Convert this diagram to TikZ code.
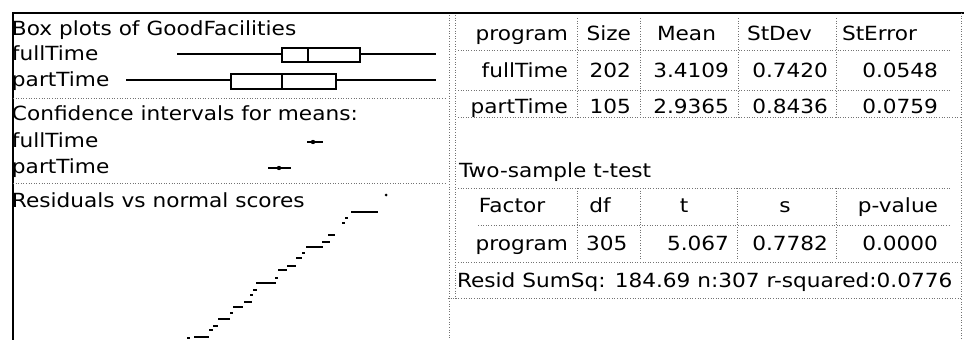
\documentclass[tikz,border=0pt]{standalone}
\usepackage{fontspec}
\newfontfamily\uiface[FakeStretch=1.11]{DejaVu Sans}
\newcommand\uifont{\uiface\fontsize{19.5}{22}\selectfont}
\begin{document}
\begin{tikzpicture}[x=1pt,y=-1pt]
\tikzset{
  lbl/.style={inner sep=0pt, outer sep=0pt, font=\uifont, text=black},
  sepline/.style={black!55, line width=0.7pt, dash pattern=on 1pt off 1.6pt},
  frameline/.style={black, line width=1.8pt},
  plotline/.style={black, line width=1.4pt},
  qq/.style={black, line width=2.2pt},
}
\useasboundingbox (0,0) rectangle (964,340);
\fill[white] (0,0) rectangle (964,340);

% window frame
\draw[frameline] (13,340) -- (13,13) -- (964,13);
\draw[sepline] (961,13) -- (961,340);

% left pane separators
\draw[sepline] (13,98) -- (446,98);
\draw[sepline] (13,183) -- (446,183);
\draw[sepline] (449,15) -- (449,340);

% ---------- box plots ----------
\node[lbl, anchor=base west] (boxTitle) at (12,35) {Box plots of GoodFacilities};
\node[lbl, anchor=base west] (boxFull) at (12,60) {fullTime};
\node[lbl, anchor=base west] (boxPart) at (12,86) {partTime};

\draw[plotline] (177,54) -- (282,54) (360,54) -- (436,54);
\draw[plotline] (282,48) rectangle (360,62);
\draw[plotline] (308,48) -- (308,62);

\draw[plotline] (126,80) -- (231,80) (336,80) -- (436,80);
\draw[plotline] (231,74) rectangle (336,89);
\draw[plotline] (282,74) -- (282,89);

% ---------- confidence intervals ----------
\node[lbl, anchor=base west] (ciTitle) at (12,120) {Confidence intervals for means:};
\node[lbl, anchor=base west] (ciFull) at (12,147) {fullTime};
\node[lbl, anchor=base west] (ciPart) at (12,173) {partTime};

\draw[black, line width=1.2pt] (307,142) -- (323,142);
\fill[black] (313,142) circle (2.2);
\draw[black, line width=1.2pt] (268,168) -- (291,168);
\fill[black] (279,168) circle (2.2);

% ---------- residuals vs normal scores ----------
\node[lbl, anchor=base west] (resTitle) at (12,207) {Residuals vs normal scores};

\fill[black] (386,195) circle (1.5);
\draw[black, line width=1.4pt] (351,212) -- (378,212);
\foreach \xa/\xb/\yy in {
  345/348/218, 342/345/223, 328/335/235, 322/330/242, 306/323/247,
  302/305/253, 296/302/258, 287/296/266, 278/287/270, 275/278/278,
  256/276/283, 253/257/290, 250/253/295, 244/252/302, 233/243/307,
  230/233/313, 218/230/319, 213/218/326, 209/213/330, 194/209/337,
  187/190/338}
  \draw[qq] (\xa,\yy) -- (\xb,\yy);

% ---------- summary table ----------
\draw[sepline] (455,15) -- (455,300);
\foreach \xx in {577,640,738,836}
  \draw[sepline] (\xx,18) -- (\xx,117);
\draw[sepline] (458,50) -- (950,50);
\draw[sepline] (458,90) -- (950,90);
\draw[sepline] (458,117) -- (961,117);

\node[lbl, anchor=base east] (hProgram) at (568,40) {program};
\node[lbl, anchor=base east] (hSize) at (631,40) {Size};
\node[lbl, anchor=base west] (hMean) at (657,40) {Mean};
\node[lbl, anchor=base west] (hStDev) at (747,40) {StDev};
\node[lbl, anchor=base west] (hStError) at (842,40) {StError};

\node[lbl, anchor=base east] (fName) at (568,77) {fullTime};
\node[lbl, anchor=base east] (fSize) at (631,77) {202};
\node[lbl, anchor=base east] (fMean) at (729,77) {3.4109};
\node[lbl, anchor=base east] (fSd) at (828,77) {0.7420};
\node[lbl, anchor=base east] (fSe) at (938,77) {0.0548};

\node[lbl, anchor=base east] (pName) at (568,113) {partTime};
\node[lbl, anchor=base east] (pSize) at (631,113) {105};
\node[lbl, anchor=base east] (pMean) at (729,113) {2.9365};
\node[lbl, anchor=base east] (pSd) at (828,113) {0.8436};
\node[lbl, anchor=base east] (pSe) at (938,113) {0.0759};

% ---------- t-test table ----------
\node[lbl, anchor=base west] (tTitle) at (459,177) {Two-sample t-test};

\foreach \xx in {577,640,737,836}
  \draw[sepline] (\xx,188) -- (\xx,260);
\draw[sepline] (458,188) -- (950,188);
\draw[sepline] (478,225) -- (950,225);
\draw[sepline] (458,262) -- (961,262);
\draw[sepline] (448,298) -- (961,298);

\node[lbl, anchor=base] (hFactor) at (512,212) {Factor};
\node[lbl, anchor=base] (hDf) at (600,212) {df};
\node[lbl, anchor=base] (hT) at (684,212) {t};
\node[lbl, anchor=base] (hS) at (785,212) {s};
\node[lbl, anchor=base east] (hP) at (938,212) {p-value};

\node[lbl, anchor=base east] (rName) at (568,250) {program};
\node[lbl, anchor=base west] (rDf) at (586,250) {305};
\node[lbl, anchor=base east] (rT) at (729,250) {5.067};
\node[lbl, anchor=base east] (rS) at (828,250) {0.7782};
\node[lbl, anchor=base east] (rP) at (938,250) {0.0000};

\node[lbl, anchor=base west] (resid) at (457,287) {Resid SumSq: 184.69 n:307 r-squared:0.0776};
\end{tikzpicture}
\end{document}
